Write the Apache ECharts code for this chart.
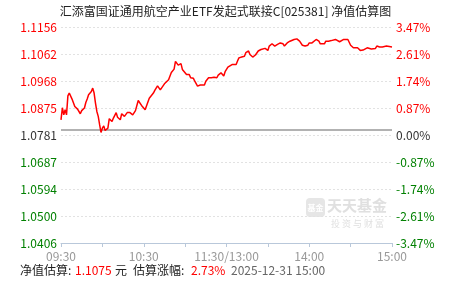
<!DOCTYPE html>
<html>
<head>
<meta charset="utf-8">
<script src="https://cdn.jsdelivr.net/npm/echarts@6/dist/echarts.min.js"></script>
<style>
html,body{margin:0;padding:0;background:#fff;}
#c{width:451px;height:281px;}
</style>
</head>
<body>
<div id="c"></div>
<script>
// ---- data ----
const titleText = '汇添富国证通用航空产业ETF发起式联接C[025381] 净值估算图';
const prevNav = 1.078125;
const navMin = 1.040625;
const navMax = 1.115625;
const navStep = 0.009375;
const leftTickLabels = ['1.0406','1.0500','1.0594','1.0687','1.0781','1.0875','1.0968','1.1062','1.1156'];
const rightTickLabels = ['-3.47%','-2.61%','-1.74%','-0.87%','0.00%','0.87%','1.74%','2.61%','3.47%'];
const timeTickLabels = ['09:30','','10:30','','11:30/13:00','','14:00','','15:00'];
const minutes = [0,1,2,3,4,5,6,7,8,9,10,12,13,14,15,17,18,19,20,22,23,24,25,26,27,28,29,30,31,32,33,34,35,37,38,39,40,41,43,44,46,48,50,52,54,56,57,59,61,62,64,65,67,68,70,72,73,75,76,78,80,82,83,84,85,87,88,89,91,93,94,96,97,99,100,101,104,105,107,108,109,111,113,114,116,117,118,119,121,122,124,125,127,128,129,130,131,133,134,136,137,139,141,143,145,146,148,150,151,153,155,157,159,160,161,162,164,166,167,169,170,171,173,175,177,179,180,182,183,185,187,188,191,192,194,196,197,199,200,202,203,205,208,209,210,212,213,215,217,219,220,222,223,225,226,228,229,231,233,234,236,237,240];
const navs = [1.0834,1.0876,1.0851,1.0869,1.0851,1.0917,1.0927,1.0923,1.0906,1.0893,1.0880,1.0871,1.0866,1.0855,1.0866,1.0875,1.0894,1.0906,1.0921,1.0932,1.0944,1.0927,1.0892,1.0863,1.0846,1.0817,1.0790,1.0805,1.0813,1.0797,1.0795,1.0805,1.0838,1.0828,1.0840,1.0843,1.0859,1.0843,1.0834,1.0855,1.0846,1.0859,1.0859,1.0851,1.0866,1.0901,1.0898,1.0880,1.0869,1.0866,1.0909,1.0915,1.0927,1.0936,1.0952,1.0938,1.0932,1.0959,1.0962,1.0973,1.0998,1.1010,1.1037,1.1031,1.1024,1.1029,1.1009,1.1005,1.0991,1.0991,1.0980,1.0978,1.0968,1.0951,1.0948,1.0955,1.0955,1.0968,1.0980,1.0974,1.0980,1.0982,1.0980,1.0989,1.0997,1.0991,1.0986,1.1001,1.1017,1.1021,1.1026,1.1021,1.1026,1.1038,1.1049,1.1047,1.1052,1.1055,1.1067,1.1073,1.1061,1.1052,1.1059,1.1073,1.1078,1.1084,1.1082,1.1075,1.1090,1.1098,1.1090,1.1096,1.1101,1.1107,1.1098,1.1090,1.1101,1.1107,1.1101,1.1113,1.1119,1.1115,1.1107,1.1093,1.1090,1.1093,1.1101,1.1101,1.1107,1.1113,1.1107,1.1098,1.1098,1.1107,1.1107,1.1109,1.1113,1.1113,1.1109,1.1105,1.1109,1.1113,1.1113,1.1107,1.1093,1.1084,1.1087,1.1084,1.1075,1.1076,1.1082,1.1084,1.1080,1.1080,1.1084,1.1082,1.1090,1.1087,1.1087,1.1087,1.1090,1.1087,1.1087];
const estNav = '1.1075';
const estPct = '2.73%';
const estTime = '2025-12-31 15:00';

// ---- chart ----
const FONT = 'Noto Sans CJK SC';
const seriesData = minutes.map((m, i) => [m, navs[i]]);
const tickIdx = v => Math.round((v - navMin) / navStep);
const tickColor = v => { const i = tickIdx(v); return i > 4 ? '#ff0000' : (i < 4 ? '#008000' : '#333333'); };
const f12 = '12px "' + FONT + '"';

const chart = echarts.init(document.getElementById('c'), null, {renderer: 'canvas'});
chart.setOption({
  animation: false,
  backgroundColor: '#ffffff',
  grid: {left: 61, right: 59, top: 27, bottom: 38, containLabel: false},
  xAxis: {
    type: 'value', min: 0, max: 240, interval: 30,
    axisLine: {show: true, onZero: false, lineStyle: {color: '#b9c8da', width: 1}},
    axisTick: {show: true, length: 4, lineStyle: {color: '#b9c8da'}},
    splitLine: {show: false},
    axisLabel: {
      color: '#999999', fontFamily: FONT, fontSize: 12, margin: 7,
      formatter: v => timeTickLabels[Math.round(v / 30)] || ''
    }
  },
  yAxis: [{
    type: 'value', min: navMin, max: navMax, interval: navStep, position: 'left',
    axisLine: {show: false}, axisTick: {show: false},
    splitLine: {show: true, lineStyle: {color: '#e2e2e2', type: [2, 2], width: 1}},
    axisLabel: {
      fontFamily: FONT, fontSize: 12, margin: 4,
      color: v => tickColor(v),
      formatter: v => leftTickLabels[tickIdx(v)] || ''
    }
  }, {
    type: 'value', min: navMin, max: navMax, interval: navStep, position: 'right',
    axisLine: {show: false}, axisTick: {show: false}, splitLine: {show: false},
    axisLabel: {
      fontFamily: FONT, fontSize: 12, margin: 4,
      color: v => tickColor(v),
      formatter: v => rightTickLabels[tickIdx(v)] || ''
    }
  }],
  series: [{
    type: 'line', data: seriesData, yAxisIndex: 0, showSymbol: false, symbol: 'none',
    lineStyle: {color: '#ff0000', width: 1.5}, z: 5,
    markLine: {
      silent: true, symbol: 'none', label: {show: false},
      lineStyle: {color: '#999999', type: 'solid', width: 1.5},
      data: [{yAxis: prevNav}]
    }
  }],
  graphic: [
    {type: 'text', left: 'center', top: 5,
     style: {text: titleText, font: f12, fill: '#222222'}},
    {type: 'group', left: 306, top: 198, z: 0, children: [
      {type: 'rect', shape: {x: 0, y: 0, width: 19, height: 19, r: 4}, style: {fill: '#e6e6e6'}},
      {type: 'text', x: 9.5, y: 9.5, style: {text: '基金', font: 'bold 8px "' + FONT + '"', fill: '#ffffff', align: 'center', verticalAlign: 'middle'}},
      {type: 'text', x: 21, y: 0, style: {text: '天天基金', font: 'bold 15px "' + FONT + '"', fill: '#e0e0e0'}},
      {type: 'text', x: 25, y: 21, style: {text: '投 资 与 财 富', font: '9px "' + FONT + '"', fill: '#e0e0e0'}}
    ]},
    {type: 'group', left: 20, top: 264, children: [
      {type: 'text', x: 0, y: 0, style: {text: '净值估算:', font: f12, fill: '#222222'}},
      {type: 'text', x: 55, y: 0, style: {text: estNav, font: f12, fill: '#ff0000'}},
      {type: 'text', x: 95, y: 0, style: {text: '元', font: f12, fill: '#222222'}},
      {type: 'text', x: 113, y: 0, style: {text: '估算涨幅:', font: f12, fill: '#222222'}},
      {type: 'text', x: 171, y: 0, style: {text: estPct, font: f12, fill: '#ff0000'}},
      {type: 'text', x: 211, y: 0, style: {text: estTime, font: f12, fill: '#666666'}}
    ]}
  ]
});
</script>
</body>
</html>
